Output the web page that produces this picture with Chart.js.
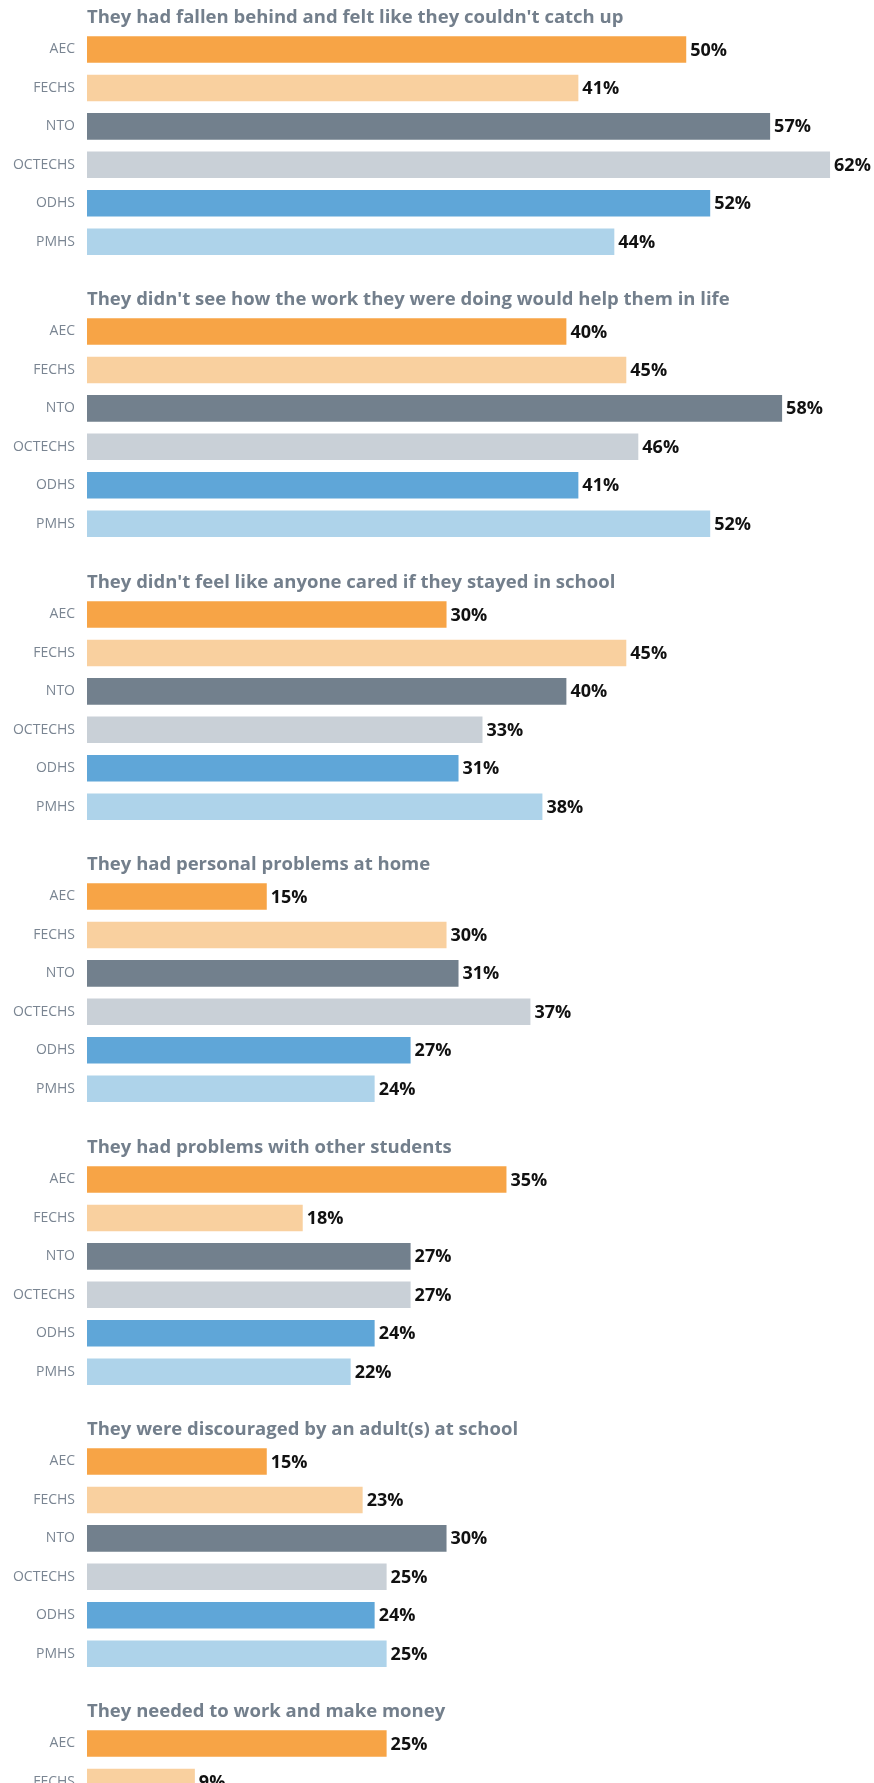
<!DOCTYPE html>
<html>
<head>
<meta charset="utf-8">
<title>Reasons for leaving school</title>
<script src="https://cdn.jsdelivr.net/npm/chart.js@4.4.1/dist/chart.umd.min.js"></script>
<style>
  html, body { margin: 0; padding: 0; background: #fff; overflow: hidden; }
  #wrap { position: relative; width: 874px; height: 1783px; overflow: hidden; }
  .panel { position: absolute; left: 0; width: 874px; height: 282px; }
</style>
</head>
<body>
<div id="wrap"></div>
<script>
// schools, same order in every panel
var schools = ['AEC', 'FECHS', 'NTO', 'OCTECHS', 'ODHS', 'PMHS'];
var schoolColors = ['#f7a446', '#f9d09f', '#72808d', '#c9d0d7', '#5fa6d8', '#aed3ea'];

var reasons = [
  "They had fallen behind and felt like they couldn't catch up",
  "They didn't see how the work they were doing would help them in life",
  "They didn't feel like anyone cared if they stayed in school",
  "They had personal problems at home",
  "They had problems with other students",
  "They were discouraged by an adult(s) at school",
  "They needed to work and make money"
];

// percent of students per school, one array per reason
var fallenBehind   = [50, 41, 57, 62, 52, 44];
var workNotUseful  = [40, 45, 58, 46, 41, 52];
var noOneCared     = [30, 45, 40, 33, 31, 38];
var homeProblems   = [15, 30, 31, 37, 27, 24];
var studentProblems = [35, 18, 27, 27, 24, 22];
var adultDiscouraged = [15, 23, 30, 25, 24, 25];
var neededMoney    = [25, 9, null, null, null, null];

var series = [fallenBehind, workNotUseful, noOneCared, homeProblems, studentProblems, adultDiscouraged, neededMoney];

Chart.defaults.font.family = "'Open Sans', sans-serif";
Chart.defaults.animation = false;

// value labels at the end of each bar
var barLabels = {
  id: 'barLabels',
  afterDatasetsDraw: function(chart) {
    var ctx = chart.ctx;
    var ds = chart.data.datasets[0];
    var meta = chart.getDatasetMeta(0);
    ctx.save();
    ctx.font = 'bold 18px "Open Sans", sans-serif';
    ctx.fillStyle = '#111';
    ctx.textAlign = 'left';
    ctx.textBaseline = 'middle';
    meta.data.forEach(function(bar, i) {
      var v = ds.data[i];
      if (v === null || v === undefined) return;
      ctx.fillText(v + '%', bar.x + 4, bar.y + 1);
    });
    ctx.restore();
  }
};

var wrap = document.getElementById('wrap');

for (var p = 0; p < reasons.length; p++) {
  var div = document.createElement('div');
  div.className = 'panel';
  div.style.top = Math.round(p * 282.4) + 'px';
  var cv = document.createElement('canvas');
  div.appendChild(cv);
  wrap.appendChild(div);

  new Chart(cv, {
    type: 'bar',
    data: {
      labels: schools,
      datasets: [{
        data: series[p],
        backgroundColor: schoolColors,
        borderWidth: 0,
        barPercentage: 0.69,
        categoryPercentage: 1
      }]
    },
    options: {
      indexAxis: 'y',
      responsive: true,
      maintainAspectRatio: false,
      layout: { padding: { left: 0, right: 8, top: 0, bottom: 21 } },
      plugins: {
        legend: { display: false },
        tooltip: { enabled: false },
        title: {
          display: true,
          text: reasons[p],
          align: 'start',
          fullSize: false,
          color: '#737f8c',
          font: { size: 18.5, weight: 'bold', lineHeight: 1.2 },
          padding: { top: 7, bottom: 1 }
        }
      },
      scales: {
        x: { display: false, min: 0, max: 65 },
        y: {
          grid: { display: false, drawTicks: false },
          border: { display: false },
          afterFit: function(s) { s.width = 87; },
          ticks: {
            padding: 12,
            color: '#7a8592',
            font: { size: 14 }
          }
        }
      }
    },
    plugins: [barLabels]
  });
}
</script>
</body>
</html>
